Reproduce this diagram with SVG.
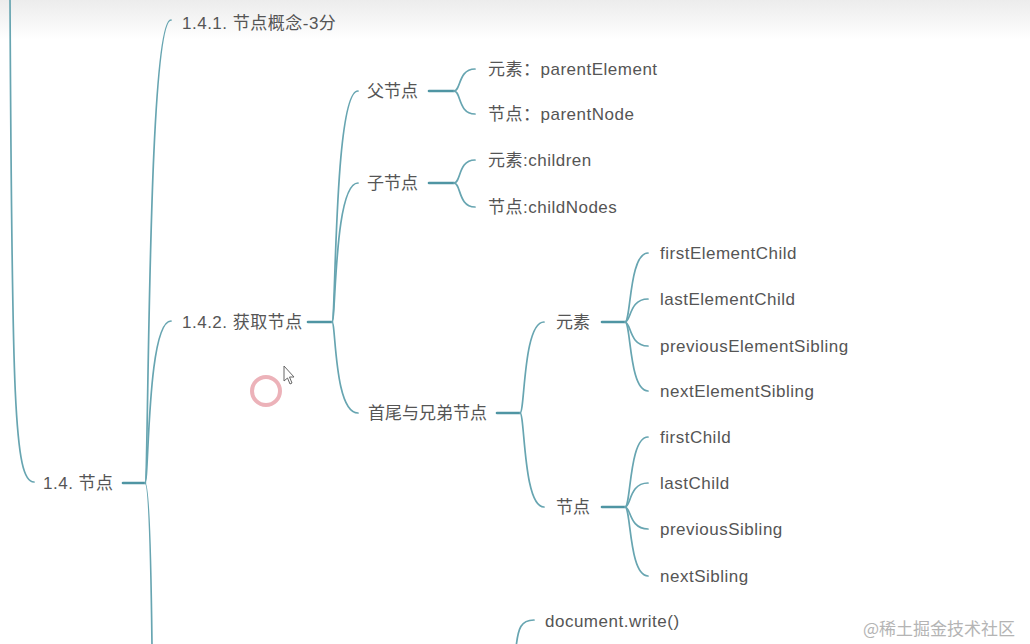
<svg xmlns="http://www.w3.org/2000/svg" width="1030" height="644" viewBox="0 0 1030 644">
<defs>
<linearGradient id="hdr" x1="0" y1="0" x2="0" y2="1">
<stop offset="0" stop-color="#ececec"/>
<stop offset="1" stop-color="#ffffff"/>
</linearGradient>
<style>
.t{font-family:"Liberation Sans","Noto Sans CJK SC",sans-serif;font-size:17px;letter-spacing:0.5px;fill:#555;}
.z{letter-spacing:0px;}
.wm{font-family:"Noto Sans CJK SC",sans-serif;font-size:17px;fill:#b4b4b4;}
.c{fill:none;stroke:#67a5b1;stroke-width:1.7;stroke-linecap:round;}
.s{fill:none;stroke:#4f95a3;stroke-width:2.6;stroke-linecap:round;}
</style>
</defs>
<rect x="0" y="0" width="1030" height="644" fill="#ffffff"/>
<rect x="0" y="0" width="1030" height="40" fill="url(#hdr)"/>

<g id="connectors">
<path class="c" d="M10,-2 C12,400 14,482 34,482"/>
<path class="s" d="M123,483 L145,483"/>
<path class="c" d="M145,483 C149,483 147,20 171,20"/>
<path class="c" d="M145,483 C149,483 147,321 171,321"/>
<path class="c" d="M145,483 C149,483 151,560 152,646"/>
<path class="s" d="M308,322 L332,322"/>
<path class="c" d="M332,322 C336,322 334,91 358,91"/>
<path class="c" d="M332,322 C336,322 334,183 358,183"/>
<path class="c" d="M332,322 C336,322 334,413 358,413"/>
<path class="s" d="M429,91 L454,91"/>
<path class="c" d="M454,91 C461,91 458,69 475,69"/>
<path class="c" d="M454,91 C461,91 458,114 475,114"/>
<path class="s" d="M429,183 L454,183"/>
<path class="c" d="M454,183 C461,183 458,160 475,160"/>
<path class="c" d="M454,183 C461,183 458,207 475,207"/>
<path class="s" d="M497,413 L520,413"/>
<path class="c" d="M520,413 C525,413 523,322 544,322"/>
<path class="c" d="M520,413 C525,413 523,507 544,507"/>
<path class="s" d="M602,322 L625,322"/>
<path class="c" d="M625,322 C631,322 629,253 648,253"/>
<path class="c" d="M625,322 C631,322 629,299 648,299"/>
<path class="c" d="M625,322 C631,322 629,346 648,346"/>
<path class="c" d="M625,322 C631,322 629,391 648,391"/>
<path class="s" d="M602,507 L625,507"/>
<path class="c" d="M625,507 C631,507 629,437 648,437"/>
<path class="c" d="M625,507 C631,507 629,483 648,483"/>
<path class="c" d="M625,507 C631,507 629,529 648,529"/>
<path class="c" d="M625,507 C631,507 629,576 648,576"/>
<path class="c" d="M516,648 C518,628 521,620 534,620"/>
</g>

<g id="n-1-4"><text class="t" x="43" y="489">1.4. 节点</text></g>
<g id="n-1-4-1"><text class="t" x="182" y="29">1.4.1. 节点概念-3分</text></g>
<g id="n-1-4-2"><text class="t" x="182" y="328">1.4.2. 获取节点</text></g>
<g id="n-parent"><text class="t z" x="367" y="97">父节点</text></g>
<g id="n-parentElement"><text class="t" x="488" y="75">元素：parentElement</text></g>
<g id="n-parentNode"><text class="t" x="488" y="120">节点：parentNode</text></g>
<g id="n-child"><text class="t z" x="367" y="189">子节点</text></g>
<g id="n-children"><text class="t" x="488" y="166">元素:children</text></g>
<g id="n-childNodes"><text class="t" x="488" y="213">节点:childNodes</text></g>
<g id="n-sibling"><text class="t z" x="368" y="419">首尾与兄弟节点</text></g>
<g id="n-elem"><text class="t z" x="556" y="328">元素</text></g>
<g id="n-node"><text class="t z" x="556" y="513">节点</text></g>
<g id="n-firstElementChild"><text class="t" x="660" y="259">firstElementChild</text></g>
<g id="n-lastElementChild"><text class="t" x="660" y="305">lastElementChild</text></g>
<g id="n-previousElementSibling"><text class="t" x="660" y="352">previousElementSibling</text></g>
<g id="n-nextElementSibling"><text class="t" x="660" y="397">nextElementSibling</text></g>
<g id="n-firstChild"><text class="t" x="660" y="443">firstChild</text></g>
<g id="n-lastChild"><text class="t" x="660" y="489">lastChild</text></g>
<g id="n-previousSibling"><text class="t" x="660" y="535">previousSibling</text></g>
<g id="n-nextSibling"><text class="t" x="660" y="582">nextSibling</text></g>
<g id="n-documentWrite"><text class="t" x="545" y="627">document.write()</text></g>

<circle cx="266" cy="391" r="14" fill="none" stroke="#e9a4ad" stroke-width="4" opacity="0.85"/>
<path d="M284,366 L284,381 L287.5,378 L290,384 L292,383 L289.5,377 L294,377 Z" fill="#ffffff" stroke="#666" stroke-width="1"/>

<text class="wm" x="863" y="635">@稀土掘金技术社区</text>
</svg>
